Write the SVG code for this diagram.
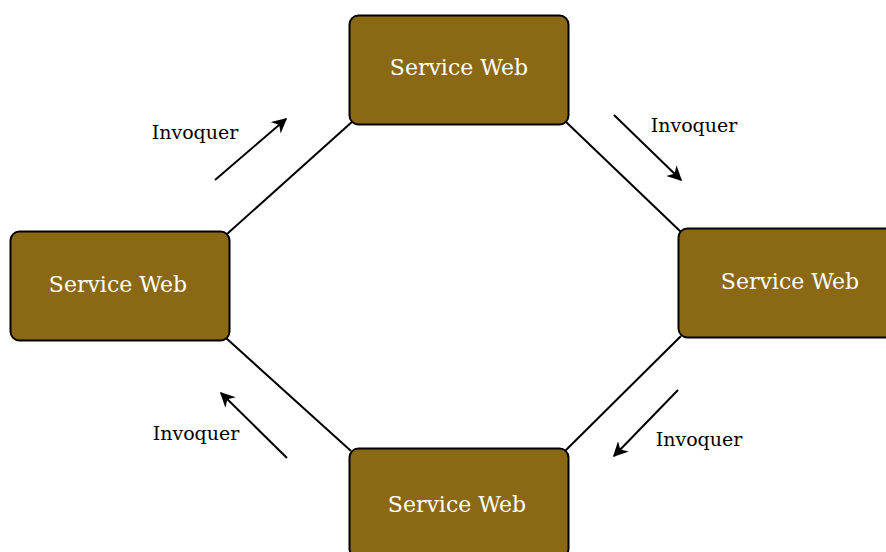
<svg xmlns="http://www.w3.org/2000/svg" width="886" height="552" viewBox="0 0 886 552">
<style>
.node rect{fill:#8B6914;stroke:#000;stroke-width:2}
.node text{font-family:"DejaVu Serif",serif;font-size:22px;fill:#fff;text-anchor:middle}
.lbl{font-family:"DejaVu Serif",serif;font-size:19px;fill:#000;text-anchor:middle}
.edge{stroke:#000;stroke-width:2;fill:none}
</style>
<defs>
<marker id="ah" viewBox="0 0 10 10" refX="9" refY="5" markerWidth="7.5" markerHeight="7.5" orient="auto" markerUnits="strokeWidth">
<path d="M0,0 L10,5 L0,10 L3,5 z" fill="#000"/>
</marker>
</defs>
<rect width="886" height="552" fill="#fff"/>
<g id="connectors">
<line class="edge" x1="227" y1="234" x2="353" y2="121"/>
<line class="edge" x1="565" y1="121" x2="681" y2="232"/>
<line class="edge" x1="681" y1="336" x2="565" y2="451"/>
<line class="edge" x1="226" y1="338" x2="351" y2="451"/>
<line class="edge" x1="215" y1="180" x2="286" y2="119" marker-end="url(#ah)"/>
<line class="edge" x1="614" y1="115" x2="681" y2="180" marker-end="url(#ah)"/>
<line class="edge" x1="678" y1="390" x2="614" y2="456" marker-end="url(#ah)"/>
<line class="edge" x1="287" y1="458" x2="221" y2="393" marker-end="url(#ah)"/>
<text class="lbl" x="195" y="139">Invoquer</text>
<text class="lbl" x="694" y="132">Invoquer</text>
<text class="lbl" x="196" y="440">Invoquer</text>
<text class="lbl" x="699" y="446">Invoquer</text>
</g>
<g id="node-top" class="node">
<rect x="349.5" y="15.5" width="219" height="109" rx="9"/>
<text x="459" y="75">Service Web</text>
</g>
<g id="node-left" class="node">
<rect x="10.5" y="231.5" width="219" height="109" rx="9"/>
<text x="118" y="292">Service Web</text>
</g>
<g id="node-right" class="node">
<rect x="678.5" y="228.5" width="219" height="109" rx="9"/>
<text x="790" y="289">Service Web</text>
</g>
<g id="node-bottom" class="node">
<rect x="349.5" y="448.5" width="219" height="109" rx="9"/>
<text x="457" y="512">Service Web</text>
</g>
</svg>
